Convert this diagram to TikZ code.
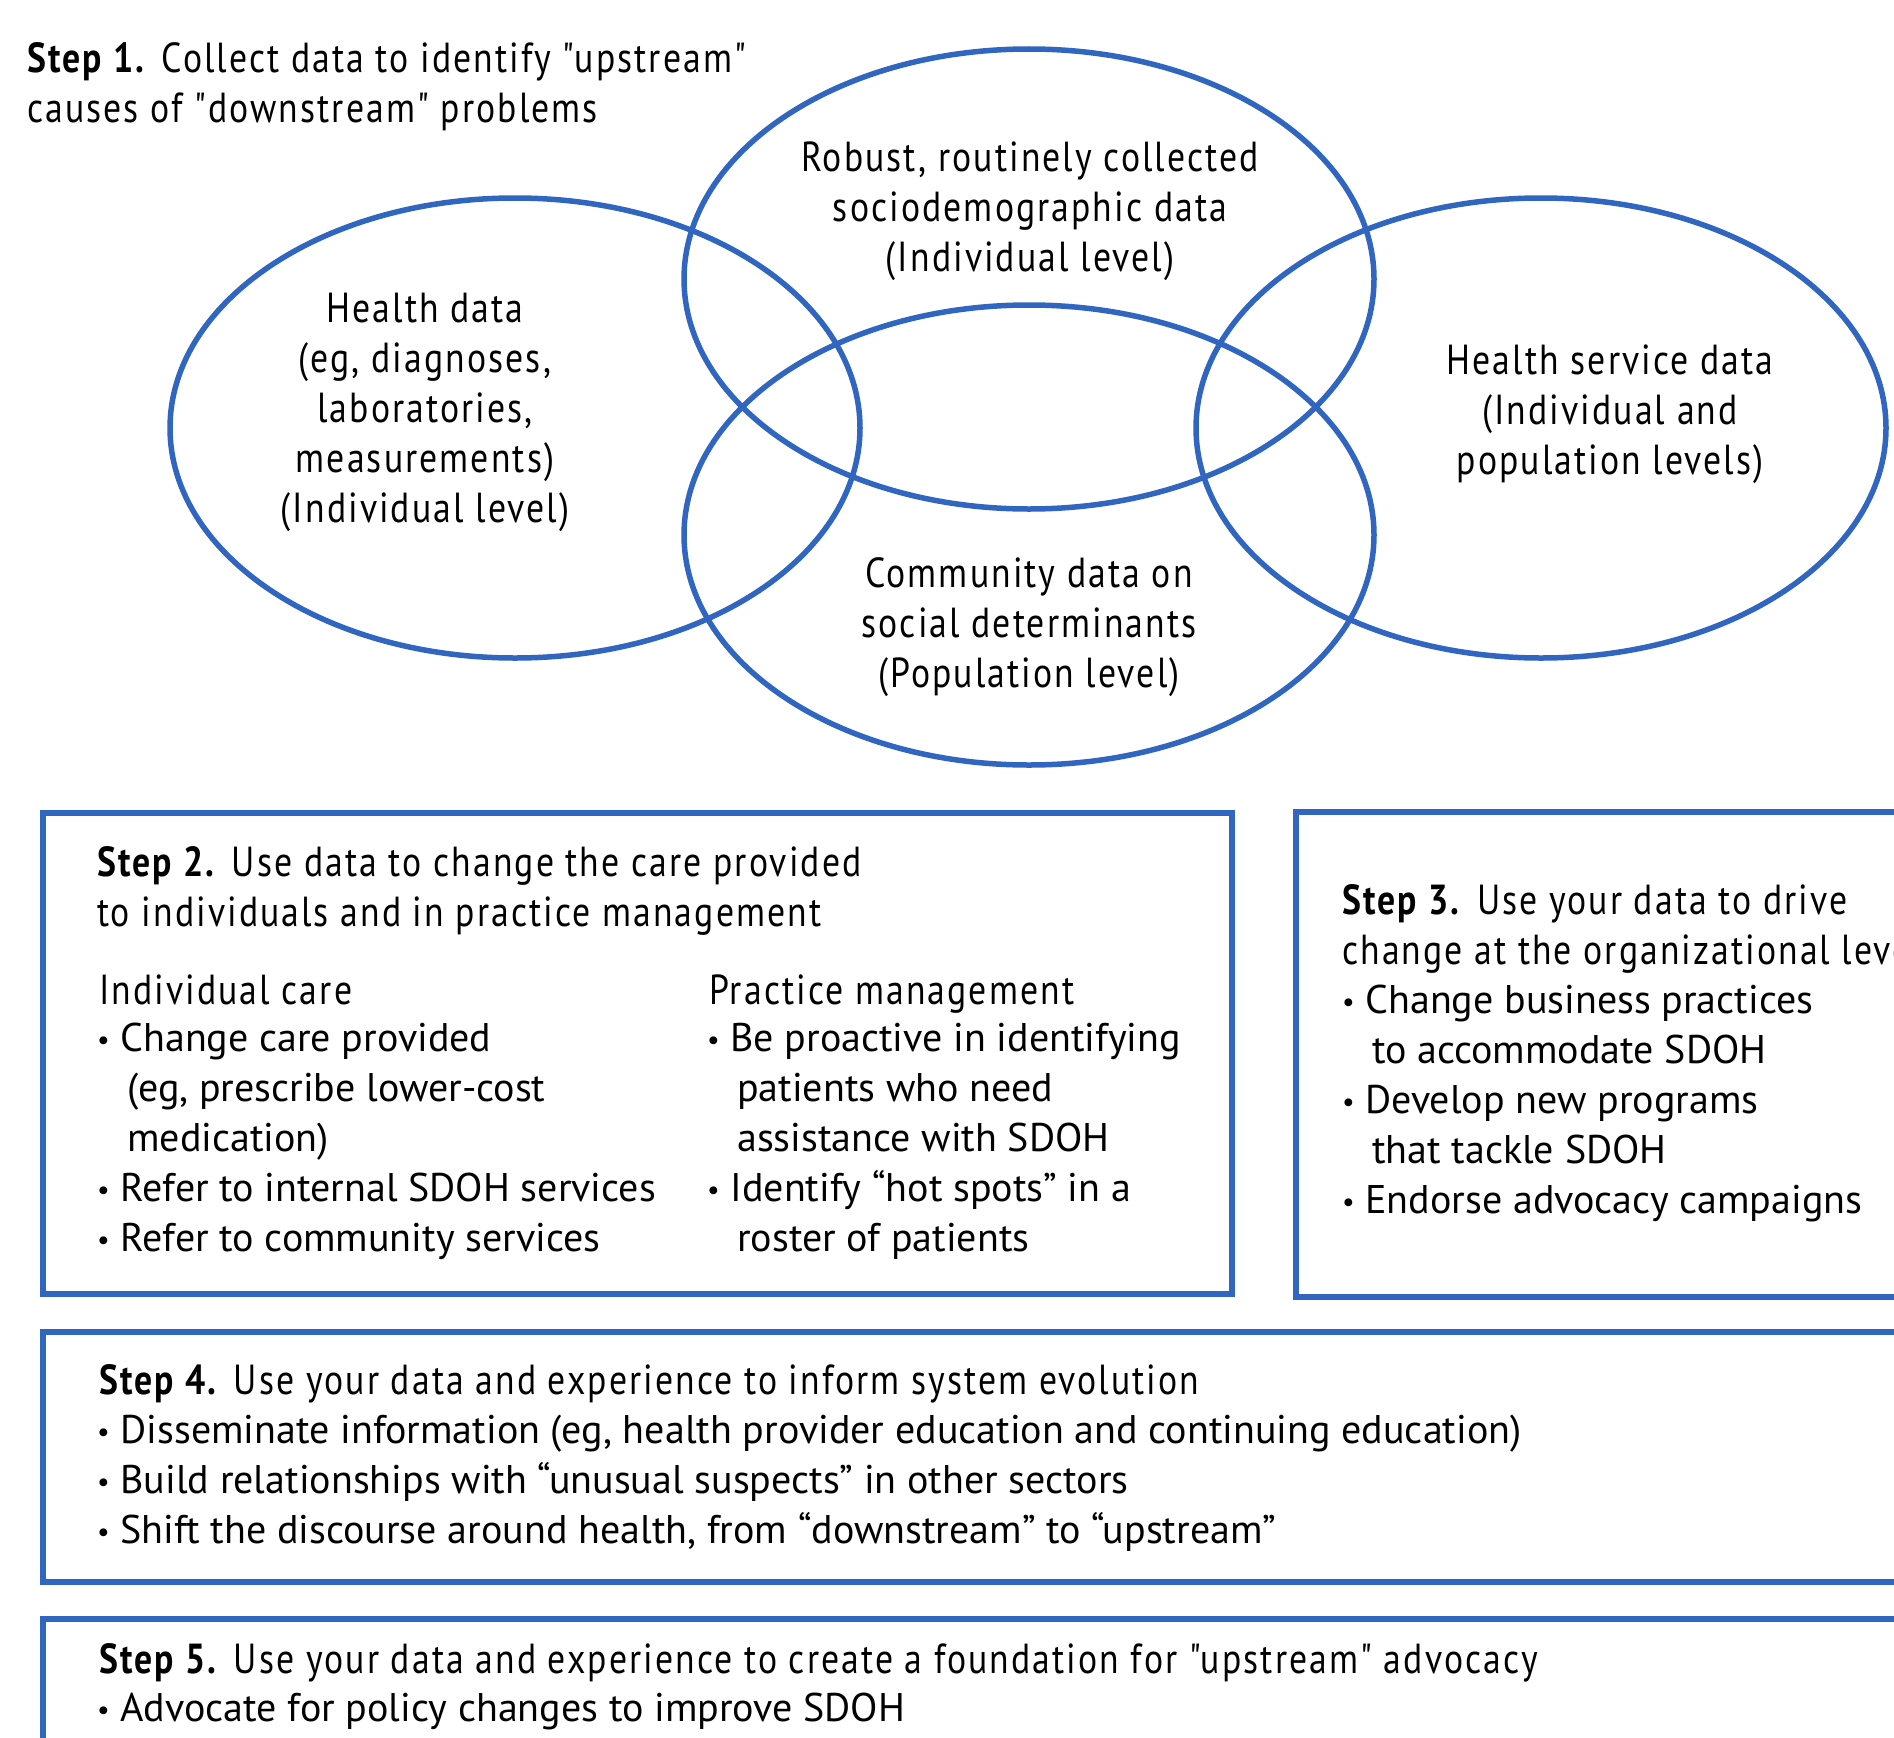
\documentclass[tikz,border=0pt]{standalone}
\usepackage{fontspec}
\setmainfont{PT Sans}
\newfontfamily\condfont{PT Sans}[FakeStretch=0.85, LetterSpace=5]
\usetikzlibrary{shapes.geometric}
\definecolor{vblue}{HTML}{3066C0}
\newcommand\bul{{\raisebox{0.05em}{\scalebox{0.7}{•}}}\ }
\newcommand\ind{\hspace*{0.75em}}
\tikzset{
  venn/.style={draw=vblue, line width=5.5pt, ellipse, minimum width=690pt, minimum height=460pt, inner sep=0pt},
  vtext/.style={align=center, font=\condfont\fontsize{42}{50}\selectfont, inner sep=0pt},
  stepbox/.style={draw=vblue, line width=5.5pt},
  head/.style={anchor=base west, align=left, inner sep=0pt, font=\condfont\fontsize{42}{50}\selectfont},
  items/.style={anchor=base west, align=left, inner sep=0pt, font=\fontsize{40}{50}\selectfont},
}
\begin{document}
\begin{tikzpicture}[x=1pt,y=-1pt]
\useasboundingbox (0,0) rectangle (1894,1737);
\clip (0,0) rectangle (1894,1737);
\fill[white] (0,0) rectangle (1894,1737);

% Step 1 (anchors are at the baseline of the last line)
\node[head] (s1) at (27,122) {\textbf{Step 1.} Collect data to identify "upstream"\\causes of "downstream" problems};

% Venn ellipses
\node[venn] (eL) at (515,428) {};
\node[venn] (eT) at (1029,279) {};
\node[venn] (eR) at (1541,428) {};
\node[venn] (eB) at (1029,535) {};

\node[vtext] (tL) at (425,412) {Health data\\(eg, diagnoses,\\laboratories,\\measurements)\\(Individual level)};
\node[vtext] (tT) at (1030,211) {Robust, routinely collected\\sociodemographic data\\(Individual level)};
\node[vtext] (tR) at (1610,414) {Health service data\\(Individual and\\population levels)};
\node[vtext] (tB) at (1029,627) {Community data on\\social determinants\\(Population level)};

% Step 2
\draw[stepbox] (43,813) rectangle (1232,1294);
\node[head] (s2) at (97,926) {\textbf{Step 2.} Use data to change the care provided\\to individuals and in practice management};
\node[head] (s2a) at (99,1004) {Individual care};
\node[items] (s2b) at (97,1251) {\bul Change care provided\\\ind (eg, prescribe lower-cost\\\ind medication)\\\bul Refer to internal SDOH services\\\bul Refer to community services};
\node[head] (s2c) at (709,1004) {Practice management};
\node[items] (s2d) at (707,1251) {\bul Be proactive in identifying\\\ind patients who need\\\ind assistance with SDOH\\\bul Identify “hot spots” in a\\\ind roster of patients};

% Step 3
\draw[stepbox] (1296,812) rectangle (1920,1297);
\node[head] (s3) at (1342,964) {\textbf{Step 3.} Use your data to drive\\change at the organizational level};
\node[items] (s3b) at (1342,1213) {\bul Change business practices\\\ind to accommodate SDOH\\\bul Develop new programs\\\ind that tackle SDOH\\\bul Endorse advocacy campaigns};

% Step 4
\draw[stepbox] (43,1332) rectangle (1920,1582);
\node[head] (s4) at (99,1394) {\textbf{Step 4.} Use your data and experience to inform system evolution};
\node[items] (s4b) at (97,1543) {\bul Disseminate information (eg, health provider education and continuing education)\\\bul Build relationships with “unusual suspects” in other sectors\\\bul Shift the discourse around health, from “downstream” to “upstream”};

% Step 5
\draw[stepbox] (43,1619) rectangle (1920,1800);
\node[head] (s5) at (99,1673) {\textbf{Step 5.} Use your data and experience to create a foundation for "upstream" advocacy};
\node[items] (s5b) at (97,1721) {\bul Advocate for policy changes to improve SDOH};
\end{tikzpicture}
\end{document}
